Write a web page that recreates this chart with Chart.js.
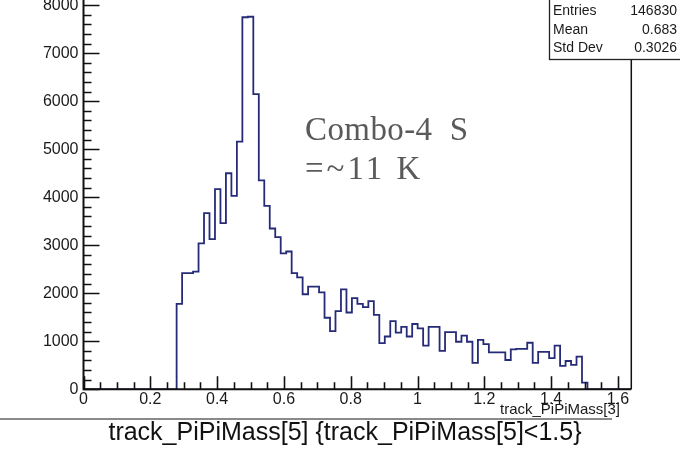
<!DOCTYPE html>
<html>
<head>
<meta charset="utf-8">
<script src="https://cdn.jsdelivr.net/npm/chart.js@4/dist/chart.umd.min.js"></script>
<style>
  html, body { margin: 0; padding: 0; background: #ffffff; overflow: hidden; }
  #wrap { position: absolute; left: 0; top: -30px; width: 680px; height: 481px; }
  canvas { display: block; }
</style>
</head>
<body>
<div id="wrap"><canvas id="c" width="680" height="481"></canvas></div>
<script>
// Histogram of track_PiPiMass[5] (100 bins, 0 to 1.64)
const binLow = 0;
const binWidth = 0.0164;
const binCounts = [
  0, 0, 0, 0, 0, 0, 0, 0, 0, 0,
  0, 0, 0, 0, 0, 0, 0, 1780, 2420, 2420,
  2450, 3040, 3670, 3130, 4170, 3460, 4500, 4030, 5160, 7750,
  7760, 6150, 4350, 3820, 3350, 3170, 2830, 2870, 2420, 2330,
  1980, 2140, 2140, 2020, 1490, 1210, 1630, 2080, 1600, 1900,
  1780, 1710, 1835, 1550, 960, 1100, 1420, 1180, 1300, 1100,
  1360, 1270, 910, 1300, 1300, 800, 1190, 1190, 990, 1120,
  990, 550, 1030, 940, 770, 770, 770, 610, 830, 840,
  840, 970, 550, 780, 780, 650, 910, 490, 590, 510,
  680, 140, 0, 0, 0, 0, 0, 0, 0, 0
];
const xTickValues = [0, 0.2, 0.4, 0.6, 0.8, 1.0, 1.2, 1.4, 1.6];
const yTickValues = [0, 1000, 2000, 3000, 4000, 5000, 6000, 7000, 8000];
const statsLabels = ['Entries', 'Mean', 'Std Dev'];
const statsValues = ['146830', '0.683', '0.3026'];
const xAxisTitle = 'track_PiPiMass[3]';
const plotTitle = 'track_PiPiMass[5] {track_PiPiMass[5]<1.5}';
const noteLines = ['Combo-4  S', '=~11 K'];

const xMax = binLow + binCounts.length * binWidth;
const yMax = 8180;

// step outline: one point per bin's low edge, closed at the upper edge
const outline = binCounts.map((c, i) => ({ x: binLow + i * binWidth, y: c }));
outline.push({ x: xMax, y: 0 });

const OFF = 30; // canvas is shifted up by this many pixels
const SANS = '"Liberation Sans", Arial, Helvetica, sans-serif';
const SERIF = '"Liberation Serif", "Times New Roman", serif';

// frame, inward tick marks, stats box and annotations
const rootStyle = {
  id: 'rootStyle',
  afterDatasetsDraw(chart) {
    const { ctx, chartArea: a, scales: { x, y } } = chart;
    ctx.save();
    ctx.strokeStyle = '#111';
    ctx.lineCap = 'butt';

    // ticks on the y axis (inward)
    ctx.lineWidth = 1.6;
    ctx.beginPath();
    for (let v = 0; v <= yMax; v += 200) {
      const py = Math.round(y.getPixelForValue(v)) + 0.5;
      const len = (v % 1000 === 0) ? 16 : 8;
      ctx.moveTo(a.left, py);
      ctx.lineTo(a.left + len, py);
    }
    // ticks on the x axis (inward)
    for (let k = 0; k * 0.05 <= xMax + 1e-9; k++) {
      const v = k * 0.05;
      const px = Math.round(x.getPixelForValue(v)) + 0.5;
      const len = (k % 4 === 0) ? 13 : 7;
      ctx.moveTo(px, a.bottom);
      ctx.lineTo(px, a.bottom - len);
    }
    ctx.stroke();

    // frame
    ctx.lineWidth = 2;
    ctx.beginPath();
    ctx.moveTo(a.left, a.top);
    ctx.lineTo(a.left, a.bottom);
    ctx.lineTo(a.right, a.bottom);
    ctx.stroke();
    ctx.lineWidth = 1.5;
    ctx.beginPath();
    ctx.moveTo(a.right, a.bottom);
    ctx.lineTo(a.right, a.top);
    ctx.lineTo(a.left, a.top);
    ctx.stroke();

    // statistics box
    const bx = 549.5, by = 0, bw = 160, bh = 59.5 + OFF;
    ctx.fillStyle = '#ffffff';
    ctx.fillRect(bx, by, bw, bh);
    ctx.lineWidth = 1.3;
    ctx.strokeStyle = '#222';
    ctx.strokeRect(bx, by - 5, bw, bh + 5);
    ctx.fillStyle = '#1a1a1a';
    ctx.font = '14px ' + SANS;
    ctx.textBaseline = 'alphabetic';
    const rows = [15, 33.5, 52];
    statsLabels.forEach((s, i) => {
      ctx.textAlign = 'left';
      ctx.fillText(s, 553, rows[i] + OFF);
      ctx.textAlign = 'right';
      ctx.fillText(statsValues[i], 677, rows[i] + OFF);
    });

    // axis title at the right end of the x axis
    ctx.font = '15px ' + SANS;
    ctx.textAlign = 'right';
    ctx.fillText(xAxisTitle, 620, 414 + OFF);

    // separator line and plot title
    ctx.strokeStyle = '#8a8a8a';
    ctx.lineWidth = 2;
    ctx.beginPath();
    ctx.moveTo(0, 419 + OFF);
    ctx.lineTo(612, 419 + OFF);
    ctx.stroke();
    ctx.fillStyle = '#111';
    ctx.font = '25px ' + SANS;
    ctx.textAlign = 'center';
    ctx.fillText(plotTitle, 345, 440 + OFF);

    // annotation
    ctx.fillStyle = '#5a5a5a';
    ctx.font = '33px ' + SERIF;
    ctx.textAlign = 'left';
    ctx.letterSpacing = '0.4px';
    ctx.fillText(noteLines[0], 305, 139.5 + OFF);
    ctx.letterSpacing = '3px';
    ctx.fillText(noteLines[1], 305, 179 + OFF);
    ctx.letterSpacing = '0px';
    ctx.restore();
  }
};

new Chart(document.getElementById('c'), {
  type: 'line',
  data: {
    datasets: [{
      data: outline,
      stepped: true,
      borderColor: '#262b78',
      borderWidth: 1.8,
      pointRadius: 0,
      fill: false,
      tension: 0
    }]
  },
  options: {
    responsive: false,
    animation: false,
    events: [],
    layout: { padding: { left: 0, right: 680 - 631.3, top: 26.6, bottom: 0 } },
    plugins: { legend: { display: false }, tooltip: { enabled: false }, title: { display: false } },
    scales: {
      x: {
        type: 'linear',
        min: binLow,
        max: xMax,
        afterFit(s) { s.height = 481 - 419.3; },
        afterBuildTicks(s) { s.ticks = xTickValues.map(v => ({ value: v })); },
        grid: { display: false, drawTicks: false },
        border: { display: false },
        ticks: {
          autoSkip: false,
          maxRotation: 0,
          padding: 1,
          color: '#1a1a1a',
          font: { family: SANS, size: 16 },
          callback: v => (Math.round(v * 10) / 10).toString()
        }
      },
      y: {
        type: 'linear',
        min: 0,
        max: yMax,
        afterFit(s) { s.width = 83.5; },
        afterBuildTicks(s) { s.ticks = yTickValues.map(v => ({ value: v })); },
        grid: { display: false, drawTicks: false },
        border: { display: false },
        ticks: {
          autoSkip: false,
          padding: 5,
          color: '#1a1a1a',
          font: { family: SANS, size: 16 },
          callback: v => v.toString()
        }
      }
    }
  },
  plugins: [rootStyle]
});
</script>
</body>
</html>
